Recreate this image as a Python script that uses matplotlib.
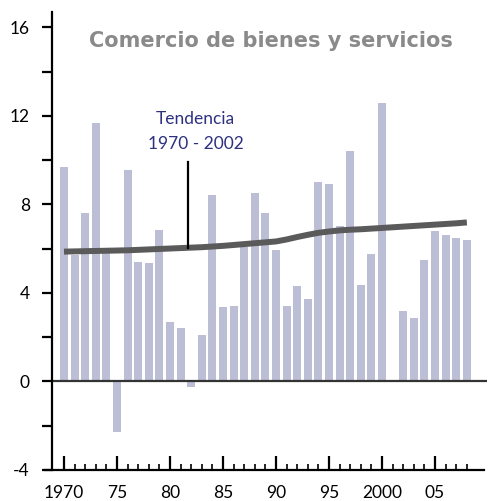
import matplotlib
matplotlib.use("Agg")
import matplotlib.pyplot as plt
import numpy as np

plt.rcParams['font.family'] = ['Lato', 'DejaVu Sans']

years = list(range(1970, 2009))
values = [9.7, 5.7, 7.6, 11.7, 5.9, -2.3, 9.55, 5.4, 5.35, 6.85,
          2.67, 2.44, -0.26, 2.08, 8.42, 3.35, 3.39, 6.1, 8.5, 7.6,
          5.93, 3.39, 4.3, 3.71, 9.0, 8.91, 7.01, 10.41, 4.34, 5.75,
          12.58, 0.0, 3.17, 2.85, 5.48, 6.79, 6.61, 6.47, 6.38]
trend = [5.87, 5.88, 5.89, 5.90, 5.91, 5.92, 5.93, 5.95, 5.97, 5.99,
         6.01, 6.03, 6.05, 6.07, 6.10, 6.13, 6.17, 6.21, 6.25, 6.29,
         6.33, 6.42, 6.53, 6.63, 6.72, 6.78, 6.83, 6.86, 6.88, 6.91,
         6.94, 6.97, 7.00, 7.03, 7.06, 7.09, 7.12, 7.15, 7.19]
yticks = [-4, 0, 4, 8, 12, 16]
xtick_years = [1970, 1975, 1980, 1985, 1990, 1995, 2000, 2005]
xtick_labels = ["1970", "75", "80", "85", "90", "95", "2000", "05"]
title = "Comercio de bienes y servicios"
note = "Tendencia\n1970 - 2002"

fig = plt.figure(figsize=(4.91, 5.01), dpi=100)
ax = fig.add_axes([52/491, 1-470/501, 435/491, 458/501])

ax.bar(years, values, width=0.75, color="#bcbed6", zorder=1)
ax.axhline(0, color="#333333", lw=1.6, zorder=2)
ax.plot(years, trend, color="#5a5a5a", lw=4.3, solid_capstyle="butt", zorder=3)

# annotation
xa = 1981.67
ya = np.interp(xa, years, trend)
ax.plot([xa, xa], [ya, 9.9], color="black", lw=1.6, zorder=4)
ax.text(1982.4, 11.3, note, ha="center", va="center", color="#2e3180",
        fontsize=12.5, linespacing=1.65)

ax.set_xlim(1968.87, 2009.9)
ax.set_ylim(-4, 16.7)

for s in ["top", "right"]:
    ax.spines[s].set_visible(False)
ax.spines["left"].set_linewidth(1.6)
ax.spines["bottom"].set_linewidth(1.6)
ax.spines["bottom"].set_bounds(1968.2, 2009.6)

ax.set_yticks(yticks)
ax.set_yticklabels([str(v) for v in yticks])
ax.set_yticks([-2, 2, 6, 10, 14], minor=True)
ax.tick_params(axis="y", which="both", direction="out", length=7, width=1.6,
               labelsize=12.5, pad=9)

ax.set_xticks(xtick_years)
ax.set_xticklabels(xtick_labels)
ax.set_xticks(years, minor=True)
ax.tick_params(axis="x", which="major", direction="in", length=10, width=1.6,
               labelsize=12.5, pad=11)
ax.tick_params(axis="x", which="minor", direction="in", length=4.5, width=1.2)

fig.text(271/491, 1-41/501, title, ha="center", va="center",
         color="#8a8a8a", fontsize=15, fontweight="bold",
         family=["DejaVu Sans"])

fig.savefig("out.png", dpi=100)
